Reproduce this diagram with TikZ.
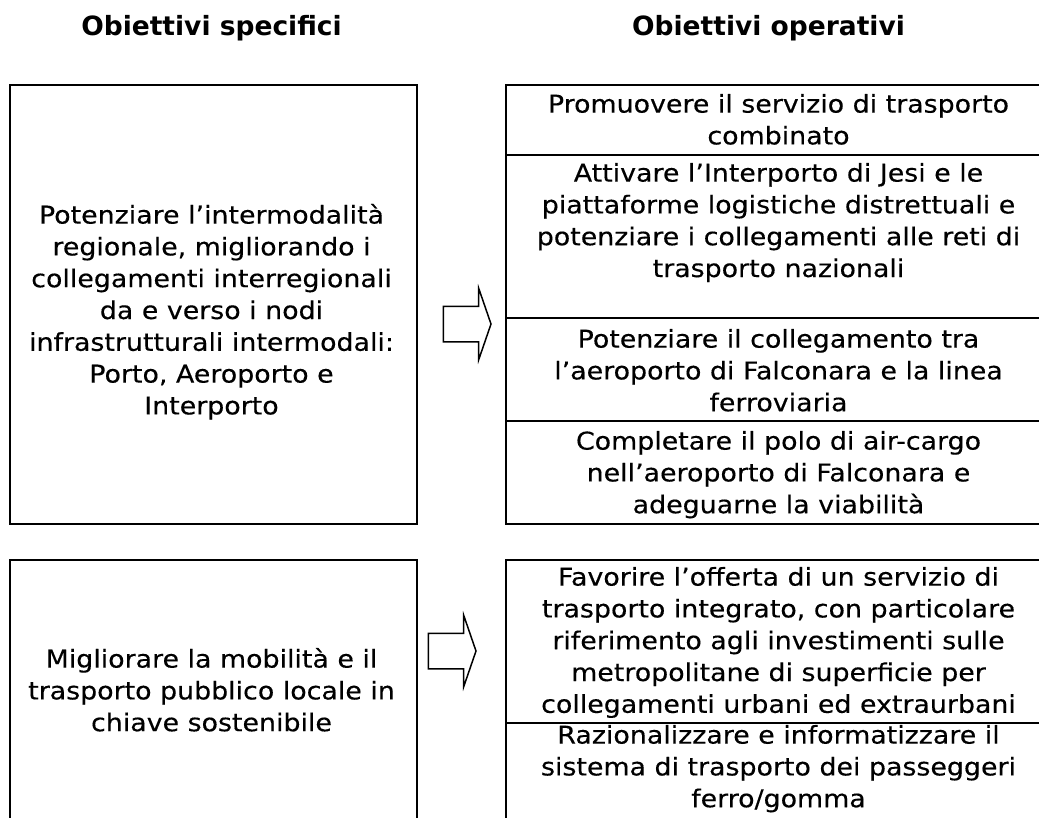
\documentclass[tikz,border=0pt]{standalone}
\usepackage{fontspec}
\setmainfont{DejaVu Sans}
\newfontfamily\bodyfont[FakeStretch=1.095, FakeBold=0.3]{DejaVu Sans}
\usetikzlibrary{positioning, shapes.arrows}

\begin{document}
\begin{tikzpicture}[
    x=1pt, y=-1pt,
    every node/.style={inner sep=0pt, outer sep=0pt},
    specbox/.style={draw, line width=2.2pt, minimum width=407pt, anchor=north west},
    opcell/.style={draw, line width=2.2pt, minimum width=545pt},
    celltext/.style={align=center, anchor=north, font=\bodyfont\fontsize{24.5}{31.8}\selectfont},
    header/.style={anchor=base, font=\fontsize{26.5}{30}\selectfont\bfseries},
    blockarrow/.style={single arrow, draw, line width=1.5pt, minimum width=0pt, minimum height=0pt,
        inner ysep=17pt, inner xsep=20pt, single arrow head extend=18pt, single arrow tip angle=142, anchor=tip}
]
\useasboundingbox (0,0) rectangle (1039,817);

% Left column: specific objectives
\node[specbox, minimum height=439pt] (spec1) at (10,85) {};
\node[specbox, minimum height=270pt] (spec2) at (10,560) {};

% Right column: operational objectives
\node[opcell, minimum height=70pt, anchor=north west] (op1) at (506,85) {};
\node[opcell, minimum height=163pt, below=0pt of op1] (op2) {};
\node[opcell, minimum height=103pt, below=0pt of op2] (op3) {};
\node[opcell, minimum height=103pt, below=0pt of op3] (op4) {};
\node[opcell, minimum height=163pt, anchor=north west] (op5) at (506,560) {};
\node[opcell, minimum height=110pt, below=0pt of op5] (op6) {};

% Titles above each column
\node[header] (hspec) at ([xshift=-2pt, yshift=50pt]spec1.north) {Obiettivi specifici};
\node[header] (hop) at ([xshift=-10pt, yshift=50pt]op1.north) {Obiettivi operativi};

% Texts
\node[celltext, below=119pt of spec1.north, xshift=-2pt] (tspec1) {Potenziare l’intermodalità\\regionale, migliorando i\\collegamenti interregionali\\da e verso i nodi\\infrastrutturali intermodali:\\Porto, Aeroporto e\\Interporto};
\node[celltext, below=88pt of spec2.north, xshift=-2pt] (tspec2) {Migliorare la mobilità e il\\trasporto pubblico locale in\\chiave sostenibile};

\node[celltext, below=9pt of op1.north] (top1) {Promuovere il servizio di trasporto\\combinato};
\node[celltext, below=8pt of op2.north] (top2) {Attivare l’Interporto di Jesi e le\\piattaforme logistiche distrettuali e\\potenziare i collegamenti alle reti di\\trasporto nazionali};
\node[celltext, below=11pt of op3.north] (top3) {Potenziare il collegamento tra\\l’aeroporto di Falconara e la linea\\ferroviaria};
\node[celltext, below=10pt of op4.north] (top4) {Completare il polo di air-cargo\\nell’aeroporto di Falconara e\\adeguarne la viabilità};
\node[celltext, below=7pt of op5.north] (top5) {Favorire l’offerta di un servizio di\\trasporto integrato, con particolare\\riferimento agli investimenti sulle\\metropolitane di superficie per\\collegamenti urbani ed extraurbani};
\node[celltext, below=2pt of op6.north] (top6) {Razionalizzare e informatizzare il\\sistema di trasporto dei passeggeri\\ferro/gomma};

% Block arrows between the columns
\node[blockarrow] (arr1) at (491,324) {};
\node[blockarrow] (arr2) at (476,651) {};

\end{tikzpicture}
\end{document}
